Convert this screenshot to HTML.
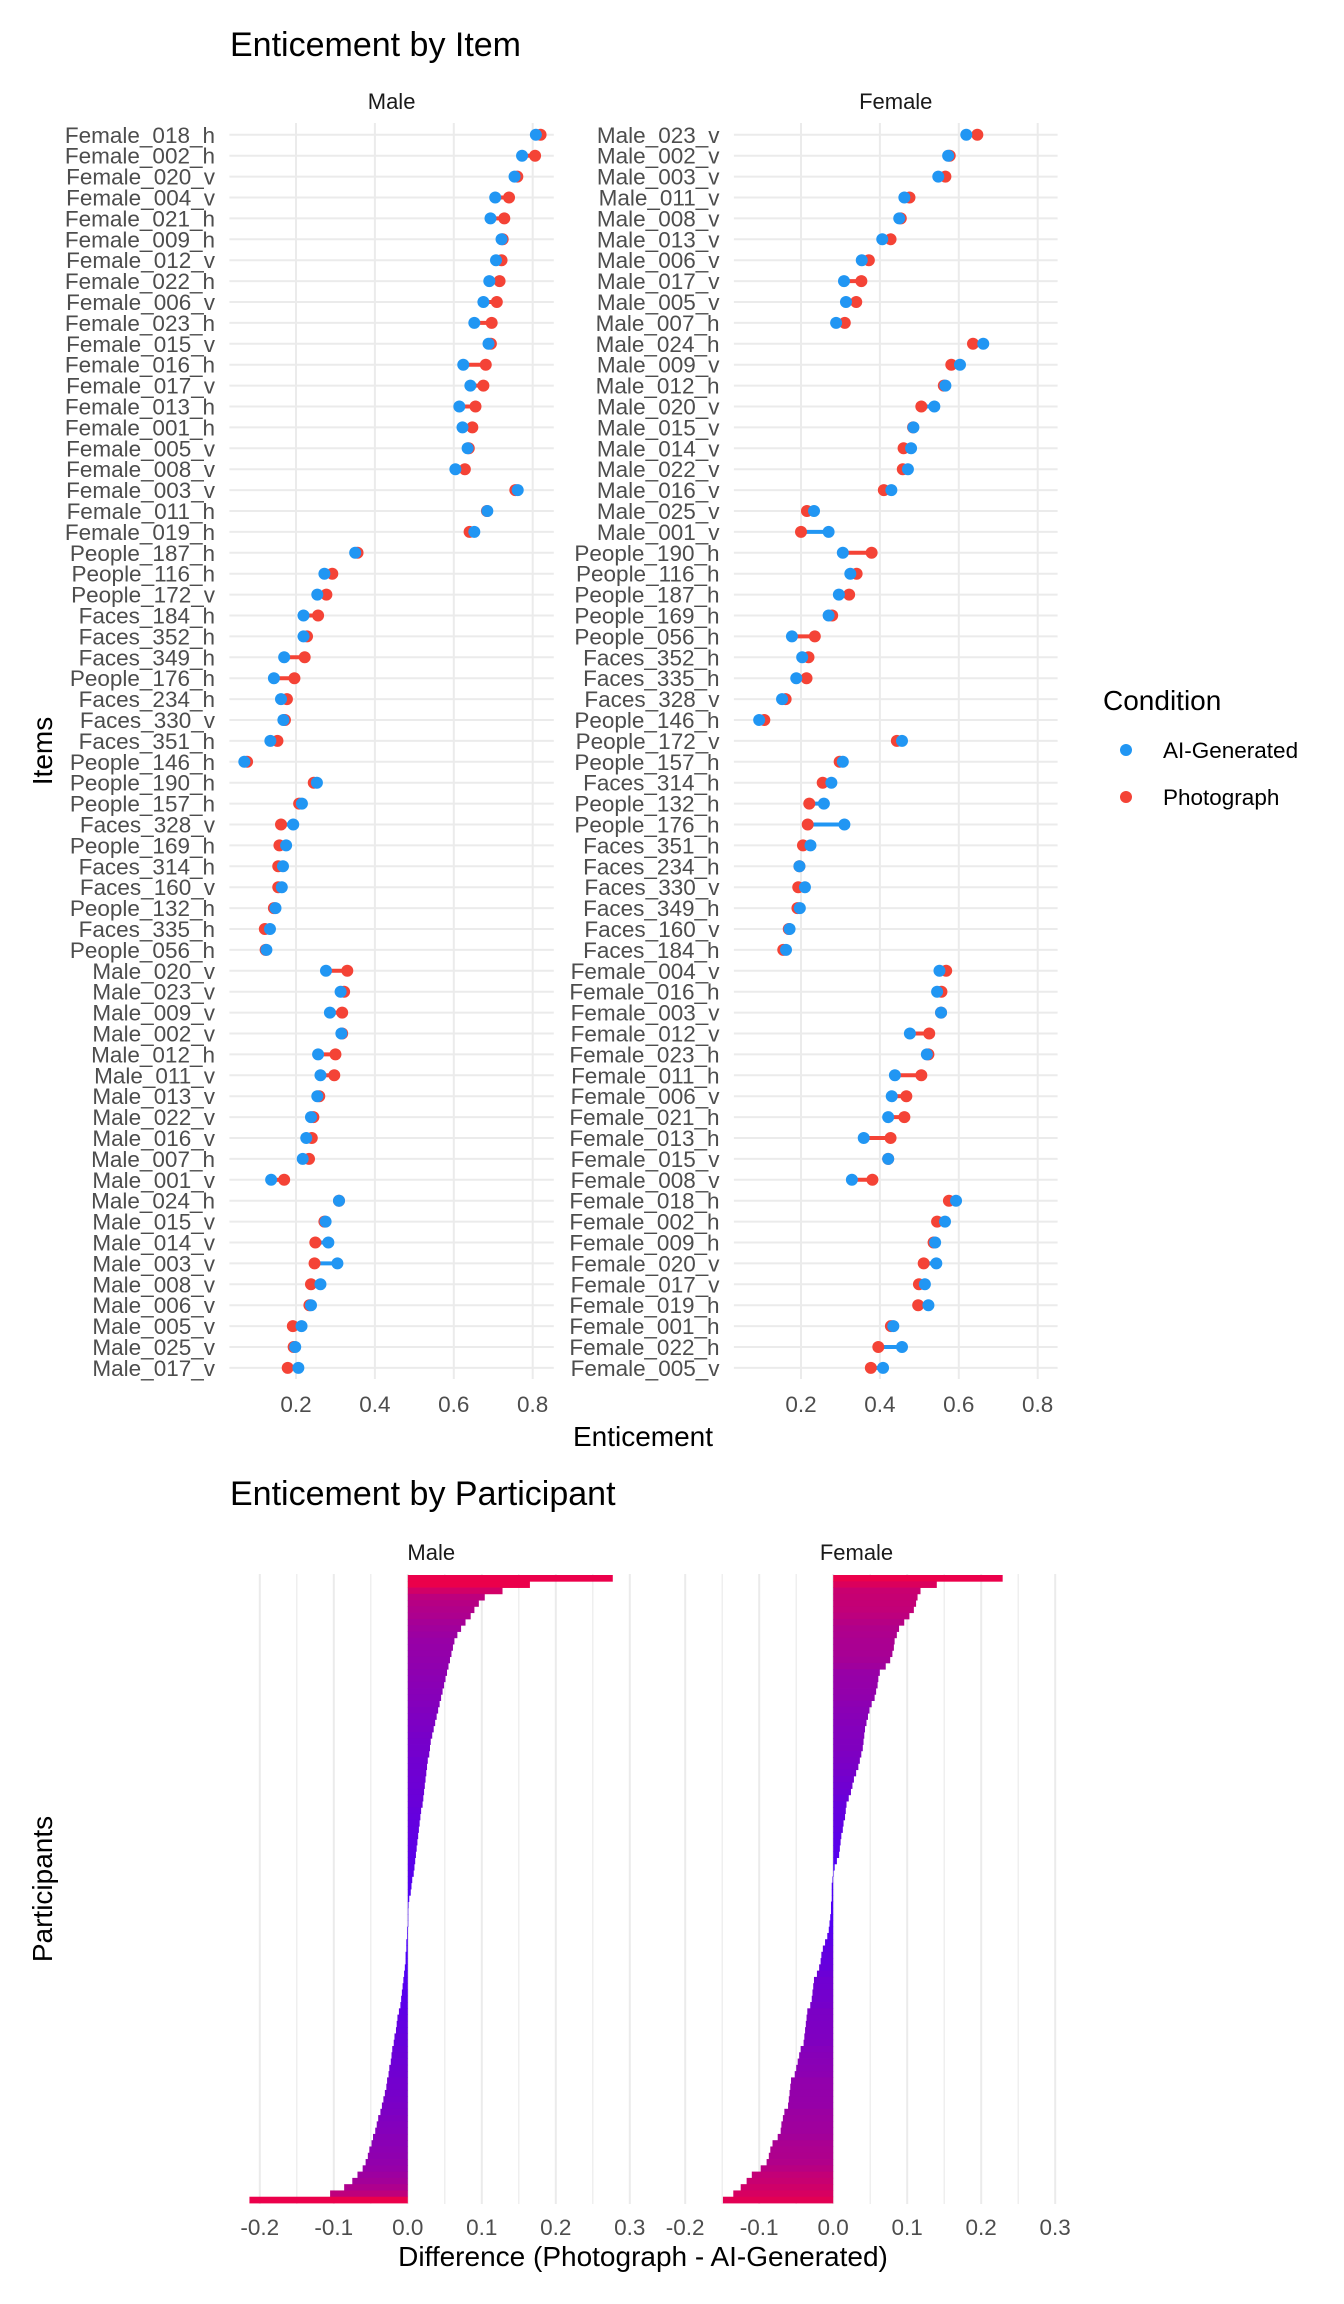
<!DOCTYPE html>
<html><head><meta charset="utf-8">
<style>
html,body{margin:0;padding:0;background:#fff;}
svg{display:block;font-family:"Liberation Sans",Arial,sans-serif;}
</style></head>
<body>
<svg id="chart" width="1344" height="2304" viewBox="0 0 1344 2304" xmlns="http://www.w3.org/2000/svg">
  <rect x="0" y="0" width="1344" height="2304" fill="#fff"/>
  <g id="topChart"></g>
  <g id="bottomChart"></g>
  <text x="230" y="56" font-size="34" fill="#000">Enticement by Item</text>
  <text x="643" y="1446" font-size="28" fill="#000" text-anchor="middle">Enticement</text>
  <text transform="translate(52,751) rotate(-90)" font-size="28" fill="#000" text-anchor="middle">Items</text>
  <g>
    <text x="1103" y="710" font-size="28" fill="#000">Condition</text>
    <circle cx="1126" cy="750" r="6" fill="#2196F3"/>
    <text x="1163" y="758" font-size="22.5" fill="#000">AI-Generated</text>
    <circle cx="1126" cy="797" r="6" fill="#F44336"/>
    <text x="1163" y="805" font-size="22.5" fill="#000">Photograph</text>
  </g>
  <text x="230" y="1505" font-size="34" fill="#000">Enticement by Participant</text>
  <text x="643" y="2266" font-size="28" fill="#000" text-anchor="middle">Difference (Photograph - AI-Generated)</text>
  <text transform="translate(52,1889) rotate(-90)" font-size="28" fill="#000" text-anchor="middle">Participants</text>
</svg>
<script>
// ---------- Top chart data ----------
const maleItems = ["Female_018_h","Female_002_h","Female_020_v","Female_004_v","Female_021_h","Female_009_h","Female_012_v","Female_022_h","Female_006_v","Female_023_h","Female_015_v","Female_016_h","Female_017_v","Female_013_h","Female_001_h","Female_005_v","Female_008_v","Female_003_v","Female_011_h","Female_019_h",
"People_187_h","People_116_h","People_172_v","Faces_184_h","Faces_352_h","Faces_349_h","People_176_h","Faces_234_h","Faces_330_v","Faces_351_h","People_146_h","People_190_h","People_157_h","Faces_328_v","People_169_h","Faces_314_h","Faces_160_v","People_132_h","Faces_335_h","People_056_h",
"Male_020_v","Male_023_v","Male_009_v","Male_002_v","Male_012_h","Male_011_v","Male_013_v","Male_022_v","Male_016_v","Male_007_h","Male_001_v","Male_024_h","Male_015_v","Male_014_v","Male_003_v","Male_008_v","Male_006_v","Male_005_v","Male_025_v","Male_017_v"];
const maleAI = [0.808,0.773,0.754,0.705,0.693,0.721,0.707,0.690,0.675,0.652,0.688,0.624,0.642,0.614,0.622,0.635,0.604,0.762,0.685,0.652,
0.350,0.272,0.254,0.219,0.219,0.170,0.144,0.162,0.168,0.135,0.069,0.253,0.215,0.193,0.175,0.167,0.164,0.148,0.134,0.125,
0.276,0.313,0.286,0.315,0.256,0.262,0.254,0.238,0.226,0.217,0.137,0.309,0.275,0.282,0.305,0.262,0.238,0.214,0.198,0.206];
const malePhoto = [0.820,0.806,0.761,0.740,0.728,0.724,0.721,0.716,0.709,0.696,0.694,0.681,0.675,0.655,0.647,0.638,0.628,0.756,0.684,0.640,
0.356,0.292,0.277,0.256,0.228,0.222,0.196,0.177,0.172,0.153,0.076,0.245,0.208,0.162,0.158,0.155,0.155,0.144,0.121,0.123,
0.330,0.322,0.317,0.317,0.300,0.297,0.259,0.244,0.240,0.233,0.170,0.309,0.272,0.249,0.247,0.238,0.234,0.192,0.194,0.179];
const femaleItems = ["Male_023_v","Male_002_v","Male_003_v","Male_011_v","Male_008_v","Male_013_v","Male_006_v","Male_017_v","Male_005_v","Male_007_h","Male_024_h","Male_009_v","Male_012_h","Male_020_v","Male_015_v","Male_014_v","Male_022_v","Male_016_v","Male_025_v","Male_001_v",
"People_190_h","People_116_h","People_187_h","People_169_h","People_056_h","Faces_352_h","Faces_335_h","Faces_328_v","People_146_h","People_172_v","People_157_h","Faces_314_h","People_132_h","People_176_h","Faces_351_h","Faces_234_h","Faces_330_v","Faces_349_h","Faces_160_v","Faces_184_h",
"Female_004_v","Female_016_h","Female_003_v","Female_012_v","Female_023_h","Female_011_h","Female_006_v","Female_021_h","Female_013_h","Female_015_v","Female_008_v","Female_018_h","Female_002_h","Female_009_h","Female_020_v","Female_017_v","Female_019_h","Female_001_h","Female_022_h","Female_005_v"];
const femaleAI = [0.619,0.573,0.548,0.462,0.449,0.406,0.354,0.309,0.314,0.289,0.662,0.603,0.566,0.538,0.485,0.479,0.471,0.429,0.233,0.270,
0.306,0.325,0.296,0.270,0.177,0.203,0.188,0.152,0.094,0.456,0.306,0.277,0.258,0.310,0.224,0.196,0.210,0.197,0.171,0.162,
0.551,0.545,0.555,0.476,0.519,0.438,0.430,0.421,0.359,0.421,0.329,0.593,0.565,0.540,0.543,0.514,0.523,0.434,0.456,0.408];
const femalePhoto = [0.647,0.577,0.566,0.475,0.453,0.427,0.372,0.353,0.340,0.311,0.636,0.581,0.562,0.505,0.484,0.460,0.458,0.410,0.215,0.200,
0.379,0.341,0.322,0.279,0.235,0.219,0.214,0.161,0.107,0.443,0.298,0.255,0.221,0.217,0.205,0.196,0.193,0.191,0.169,0.155,
0.568,0.556,0.555,0.525,0.523,0.505,0.467,0.462,0.427,0.421,0.381,0.575,0.545,0.536,0.511,0.499,0.497,0.428,0.396,0.377];
const topTicks = [0.2,0.4,0.6,0.8];
const topTickLabels = ["0.2","0.4","0.6","0.8"];

// ---------- Bottom chart data ----------
const maleDiff = [0.277,0.165,0.128,0.104,0.096,0.090,0.085,0.078,0.072,0.067,0.063,0.061,0.059,0.057,0.055,0.053,0.051,0.049,0.047,0.045,
0.043,0.041,0.039,0.037,0.035,0.033,0.031,0.030,0.029,0.027,0.026,0.025,0.024,0.023,0.022,0.021,0.020,0.018,0.017,0.016,
0.015,0.014,0.013,0.012,0.011,0.010,0.009,0.008,0.006,0.005,0.004,0.002,0.001,0.000,0.000,0.000,-0.001,-0.001,-0.002,-0.002,
-0.003,-0.003,-0.004,-0.005,-0.006,-0.007,-0.008,-0.009,-0.010,-0.012,-0.014,-0.015,-0.016,-0.018,-0.019,-0.021,-0.022,-0.023,-0.025,-0.026,
-0.028,-0.029,-0.031,-0.033,-0.035,-0.037,-0.040,-0.042,-0.044,-0.047,-0.049,-0.052,-0.054,-0.057,-0.061,-0.068,-0.075,-0.086,-0.105,-0.214];
const femaleDiff = [0.229,0.140,0.118,0.114,0.112,0.109,0.103,0.096,0.089,0.086,0.083,0.082,0.080,0.077,0.071,0.063,0.061,0.060,0.058,0.056,
0.052,0.049,0.047,0.045,0.043,0.042,0.041,0.040,0.038,0.036,0.034,0.031,0.028,0.026,0.024,0.021,0.018,0.017,0.016,0.014,
0.013,0.011,0.010,0.009,0.008,0.005,0.002,0.000,-0.001,-0.002,-0.002,-0.002,-0.003,-0.003,-0.004,-0.005,-0.006,-0.008,-0.011,-0.014,
-0.016,-0.017,-0.019,-0.022,-0.026,-0.027,-0.028,-0.029,-0.031,-0.035,-0.036,-0.037,-0.038,-0.039,-0.040,-0.044,-0.046,-0.048,-0.050,-0.052,
-0.057,-0.058,-0.059,-0.060,-0.061,-0.066,-0.068,-0.070,-0.071,-0.075,-0.082,-0.085,-0.087,-0.090,-0.098,-0.110,-0.117,-0.125,-0.135,-0.149];
const bottomTicks = [-0.2,-0.1,0.0,0.1,0.2,0.3];
const bottomTickLabels = ["-0.2","-0.1","0.0","0.1","0.2","0.3"];
const bottomMinor = [-0.15,-0.05,0.05,0.15,0.25];

const NS = "http://www.w3.org/2000/svg";
function mk(parent, tag, attrs){
  const e = document.createElementNS(NS, tag);
  for (const k in attrs) e.setAttribute(k, attrs[k]);
  parent.appendChild(e);
  return e;
}

// ---------- Top chart drawing ----------
const topG = document.getElementById('topChart');
const rowY0 = 134.8, rowStep = 20.9;
function yRow(i){ return rowY0 + i*rowStep; }
const panels = [
  {name:'male', strip:'Male', left:229.4, right:553.8, x02:296, labelRight:215, items:maleItems, ai:maleAI, ph:malePhoto},
  {name:'female', strip:'Female', left:733.9, right:1057.6, x02:801, labelRight:719.5, items:femaleItems, ai:femaleAI, ph:femalePhoto}
];
const unit = 394.5;
panels.forEach(p => {
  const xs = v => p.x02 + (v-0.2)*unit;
  const g = mk(topG,'g',{});
  
  
  const st = mk(g,'text',{x:(p.left+p.right)/2, y:109, 'font-size':22, fill:'#1a1a1a','text-anchor':'middle'});
  st.textContent = p.strip;
  
  
  topTicks.forEach((t,k) => {
    const ln = mk(g,'line',{x1:xs(t),x2:xs(t),y1:123,y2:1379,stroke:'#ebebeb','stroke-width':2});
    
    
    const tl = mk(g,'text',{x:xs(t), y:1412, 'font-size':22.5, fill:'#4d4d4d','text-anchor':'middle'});
    tl.textContent = topTickLabels[k];
    
    
  });
  p.items.forEach((name,i) => {
    const y = yRow(i);
    const gl = mk(g,'line',{x1:p.left,x2:p.right,y1:y,y2:y,stroke:'#ebebeb','stroke-width':2});
    
    
    const lab = mk(g,'text',{x:p.labelRight, y:y+8, 'font-size':22.5, fill:'#4d4d4d','text-anchor':'end'});
    lab.textContent = name;
    
    
  });
  p.items.forEach((name,i) => {
    const y = yRow(i);
    const a = p.ai[i], b = p.ph[i];
    const segColor = b > a ? '#F44336' : '#2196F3';
    const seg = mk(g,'line',{x1:xs(a),x2:xs(b),y1:y,y2:y,stroke:segColor,'stroke-width':4});
    
    
    const pr = mk(g,'circle',{cx:xs(b), cy:y, r:6, fill:'#F44336'});
    
    
    const pa = mk(g,'circle',{cx:xs(a), cy:y, r:6, fill:'#2196F3'});
    
    
  });
});

// ---------- Bottom chart drawing ----------
const bottomG = document.getElementById('bottomChart');
const barTop = 1575, barBottom = 2203;
const bunit = 740;
function barColor(v){
  let t = Math.min(1, Math.abs(v)/0.16);
  t = Math.pow(t, 0.75);
  const r = Math.round(70 + (235-70)*t);
  const b = Math.round(255 + (75-255)*t);
  return 'rgb(' + r + ',0,' + b + ')';
}
const bpanels = [
  {name:'male', strip:'Male', x0:407.8, left:231, right:631.5, data:maleDiff},
  {name:'female', strip:'Female', x0:833.2, left:656, right:1057, data:femaleDiff}
];
bpanels.forEach(p => {
  const xs = v => p.x0 + v*bunit;
  const g = mk(bottomG,'g',{});
  
  
  const st = mk(g,'text',{x:(p.left+p.right)/2, y:1560, 'font-size':22, fill:'#1a1a1a','text-anchor':'middle'});
  st.textContent = p.strip;
  
  
  bottomMinor.forEach(t => {
    const ln = mk(g,'line',{x1:xs(t),x2:xs(t),y1:1574,y2:2204,stroke:'#ebebeb','stroke-width':1.2});
    
    
  });
  bottomTicks.forEach((t,k) => {
    const ln = mk(g,'line',{x1:xs(t),x2:xs(t),y1:1574,y2:2204,stroke:'#ebebeb','stroke-width':2});
    
    
    const tl = mk(g,'text',{x:xs(t), y:2235, 'font-size':22.5, fill:'#4d4d4d','text-anchor':'middle'});
    tl.textContent = bottomTickLabels[k];
    
    
  });
  const n = p.data.length;
  const h = (barBottom - barTop)/n;
  p.data.forEach((v,i) => {
    const x1 = Math.min(xs(0), xs(v)), w = Math.abs(xs(v)-xs(0));
    const r = mk(g,'rect',{x:x1, y:barTop + i*h, width:Math.max(w,0.5), height:h+0.4, fill:barColor(v)});
    
    
  });
});
</script>
</body></html>
